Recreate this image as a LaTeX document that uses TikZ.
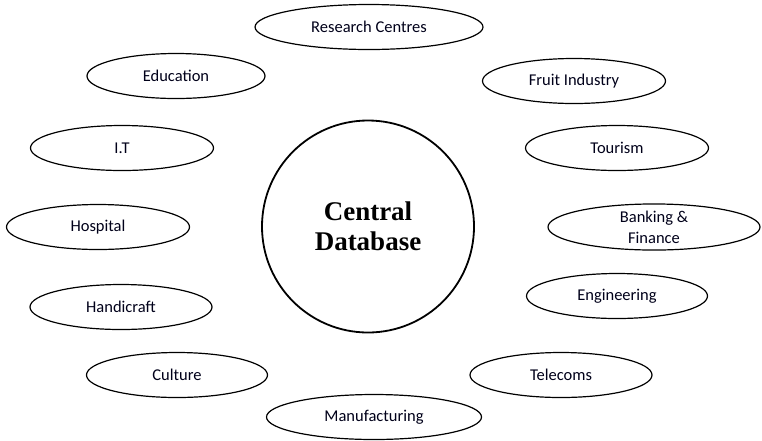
\documentclass[tikz,border=0pt]{standalone}
\usepackage{fontspec}
\setmainfont{Carlito}
\newfontfamily\centralfont{Liberation Serif}
\usetikzlibrary{shapes.geometric}
\begin{document}
\begin{tikzpicture}[x=1pt,y=-1pt,
  sector/.style={draw=black, line width=1.2pt, ellipse, inner sep=0pt,
    minimum height=45pt, font=\fontsize{16.5}{20}\selectfont, text=black!90!blue, align=center},
  hub/.style={draw=black, line width=1.8pt, circle, inner sep=0pt, minimum size=212pt,
    font=\centralfont\bfseries\fontsize{27}{30}\selectfont, align=center}]
\useasboundingbox (0,0) rectangle (762,440);
\node[hub] (cdb) at (368,226.5) {Central\\Database};
\node[sector, minimum width=228pt] (rc) at (369,27) {Research Centres};
\node[sector, minimum width=178pt] (edu) at (176,76) {Education};
\node[sector, minimum width=183pt] (fruit) at (574,81) {Fruit Industry};
\node[sector, minimum width=183pt] (it) at (122,148) {I.T};
\node[sector, minimum width=183pt] (tour) at (617,148) {Tourism};
\node[sector, minimum width=183pt] (hosp) at (98,227) {Hospital};
\node[sector, minimum width=212pt, font=\fontsize{16.5}{21}\selectfont] (bank) at (654,227) {Banking \&\\Finance};
\node[sector, minimum width=182pt] (handi) at (121,307) {Handicraft};
\node[sector, minimum width=181pt] (eng) at (617,296) {Engineering};
\node[sector, minimum width=181pt] (cult) at (177,375) {Culture};
\node[sector, minimum width=182pt] (tele) at (561,375) {Telecoms};
\node[sector, minimum width=215pt] (manu) at (374,417) {Manufacturing};
\end{tikzpicture}
\end{document}
